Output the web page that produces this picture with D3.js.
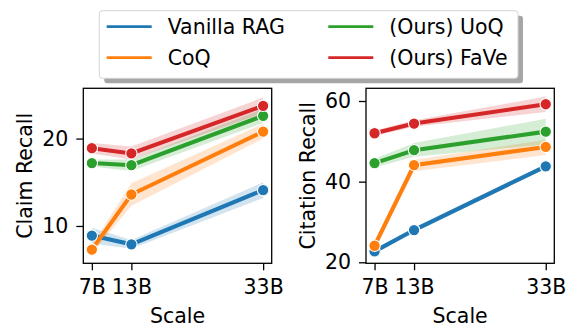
<!DOCTYPE html>
<html>
<head>
<meta charset="utf-8">
<script src="https://cdn.jsdelivr.net/npm/d3@7"></script>
<style>
  body { margin: 0; background: #fff; }
  text { font-family: "DejaVu Sans", sans-serif; fill: #000; }
</style>
</head>
<body>
<svg id="chart" width="569" height="327"></svg>
<script>
"use strict";

// categories
var scaleLabels = ["7B", "13B", "33B"];
var scaleValues = [7, 13, 33];
var methods = ["Vanilla RAG", "CoQ", "(Ours) UoQ", "(Ours) FaVe"];
var colors = ["#1f77b4", "#ff7f0e", "#2ca02c", "#d62728"];

// claim recall (mean, band low, band high), one row per method
var claimMean = [[8.9, 7.9, 14.1], [7.3, 13.6, 20.8], [17.2, 16.95, 22.6], [18.9, 18.3, 23.75]];
var claimLow  = [[8.0, 7.4, 13.2], [6.8, 12.3, 20.0], [16.8, 16.3, 21.8], [18.3, 17.6, 22.9]];
var claimHigh = [[9.8, 8.4, 15.0], [7.8, 14.9, 21.7], [17.6, 17.6, 23.4], [19.5, 19.1, 24.7]];
var claimTicks = [10, 20];

// citation recall
var citeMean = [[22.7, 28.0, 43.8], [24.1, 44.1, 48.6], [44.6, 47.8, 52.4], [52.0, 54.4, 59.2]];
var citeLow  = [[22.1, 27.4, 43.2], [23.5, 42.6, 46.6], [43.5, 46.2, 49.2], [51.3, 53.6, 57.3]];
var citeHigh = [[23.3, 28.6, 44.4], [24.7, 45.4, 50.4], [45.7, 49.6, 55.6], [52.7, 55.2, 61.1]];
var citeTicks = [20, 40, 60];

var svg = d3.select("#chart");
var top_ = 88.3, bottom = 263.3;
var fontSize = 20.5;

function drawPanel(left, right, mean, low, high, yDomain, yTicks, yLabel)
{
    var g = svg.append("g");

    var x = d3.scaleLinear().domain([5.7, 34.3]).range([left, right]);
    var y = d3.scaleLinear().domain(yDomain).range([bottom, top_]);

    var area = d3.area()
        .x(function (d) { return x(d.x); })
        .y0(function (d) { return y(d.lo); })
        .y1(function (d) { return y(d.hi); });

    var line = d3.line()
        .x(function (d) { return x(d.x); })
        .y(function (d) { return y(d.v); });

    var series = methods.map(function (m, i) {
        return scaleValues.map(function (s, j) {
            return { x: s, v: mean[i][j], lo: low[i][j], hi: high[i][j] };
        });
    });

    // bands under all lines
    series.forEach(function (pts, i) {
        g.append("path")
            .attr("d", area(pts))
            .attr("fill", colors[i])
            .attr("fill-opacity", 0.2);
    });

    series.forEach(function (pts, i) {
        g.append("path")
            .attr("d", line(pts))
            .attr("fill", "none")
            .attr("stroke", colors[i])
            .attr("stroke-width", 4.1);
        g.selectAll(null)
            .data(pts)
            .enter()
            .append("circle")
            .attr("cx", function (d) { return x(d.x); })
            .attr("cy", function (d) { return y(d.v); })
            .attr("r", 5.7)
            .attr("fill", colors[i])
            .attr("stroke", "#fff")
            .attr("stroke-width", 1.1);
    });

    // frame
    g.append("rect")
        .attr("x", left)
        .attr("y", top_)
        .attr("width", right - left)
        .attr("height", bottom - top_)
        .attr("fill", "none")
        .attr("stroke", "#000")
        .attr("stroke-width", 1.3);

    var xAxis = g.append("g")
        .attr("transform", "translate(0," + bottom + ")")
        .call(d3.axisBottom(x)
            .tickValues(scaleValues)
            .tickFormat(function (d, i) { return scaleLabels[i]; })
            .tickSize(7)
            .tickPadding(9));
    xAxis.select(".domain").remove();

    var yAxis = g.append("g")
        .attr("transform", "translate(" + left + ",0)")
        .call(d3.axisLeft(y)
            .tickValues(yTicks)
            .tickSize(7)
            .tickPadding(8));
    yAxis.select(".domain").remove();

    [xAxis, yAxis].forEach(function (a) {
        a.selectAll("line").attr("stroke", "#000").attr("stroke-width", 1.3);
        a.selectAll("text")
            .style("font-family", "DejaVu Sans")
            .style("font-size", fontSize + "px")
            .attr("fill", "#000");
    });

    g.append("text")
        .attr("x", (left + right) / 2)
        .attr("y", 323.3)
        .attr("text-anchor", "middle")
        .style("font-size", fontSize + "px")
        .text("Scale");

    g.append("text")
        .attr("transform", "translate(" + (left - 51) + "," + ((top_ + bottom) / 2) + ") rotate(-90)")
        .attr("text-anchor", "middle")
        .style("font-size", fontSize + "px")
        .text(yLabel);
}

drawPanel(83.3, 271.7, claimMean, claimLow, claimHigh, [5.73, 25.75], claimTicks, "Claim Recall");
drawPanel(366, 554.3, citeMean, citeLow, citeHigh, [19.75, 63.15], citeTicks, "Citation Recall");

// legend
var legend = svg.append("g");
var lx = 99.3, ly = 10.7, lw = 418.7, lh = 67.6;
legend.append("rect")
    .attr("x", lx + 5).attr("y", ly + 5)
    .attr("width", lw).attr("height", lh)
    .attr("rx", 3)
    .attr("fill", "#a6a6a6");
legend.append("rect")
    .attr("x", lx).attr("y", ly)
    .attr("width", lw).attr("height", lh)
    .attr("rx", 3)
    .attr("fill", "#fff")
    .attr("stroke", "#d4d4d4")
    .attr("stroke-width", 1);

var colX = [106.7, 328.3];
var rowY = [26.7, 57.7];
methods.forEach(function (m, i) {
    var cx = colX[Math.floor(i / 2)];
    var cy = rowY[i % 2];
    legend.append("line")
        .attr("x1", cx).attr("x2", cx + 45)
        .attr("y1", cy).attr("y2", cy)
        .attr("stroke", colors[i])
        .attr("stroke-width", 2.7);
    legend.append("text")
        .attr("x", cx + 61)
        .attr("y", cy + 7.5)
        .style("font-size", fontSize + "px")
        .text(m);
});
</script>
</body>
</html>
